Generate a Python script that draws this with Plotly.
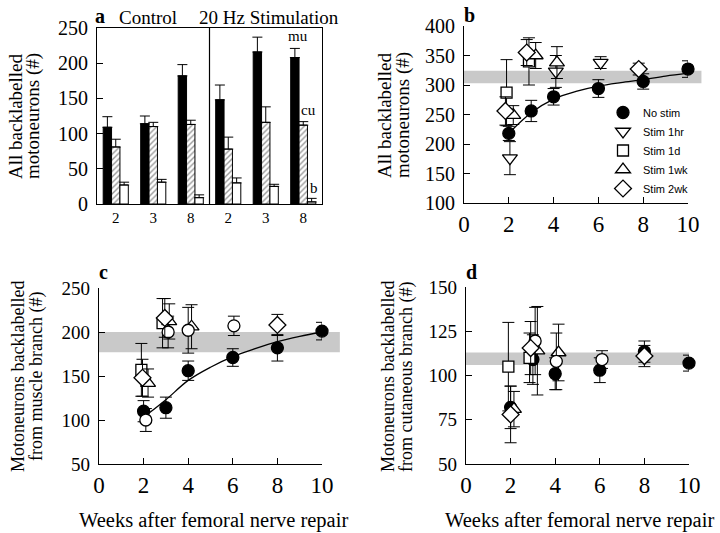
import plotly.graph_objects as go

W, H = 720, 533

# ---------------- Panel a data ----------------
conds = ["C2", "C3", "C8", "S2", "S3", "S8"]
week_labels = ["2", "3", "8", "2", "3", "8"]
mu_vals = [109, 114, 182, 148, 216, 208]
mu_err = [15, 11, 16, 21, 21, 13]
cu_vals = [81, 110, 113, 78, 116, 112]
cu_err = [11, 6, 6, 17, 22, 5]
b_vals = [27, 31, 9, 30, 25, 3]
b_err = [4, 4, 4, 7, 3, 5]

# ---------------- Panel b data ----------------
b_nostim_x = [2, 3, 4, 6, 8, 10]
b_nostim_y = [218, 256, 280, 294, 306, 327]
b_nostim_e = [12, 18, 14, 15, 13, 14]
b_1hr_x = [2.05, 4.1, 6.1]
b_1hr_y = [176, 323, 338]
b_1hr_e = [28, 27, 10]
b_1d_x = [1.9, 2.9]
b_1d_y = [287, 340]
b_1d_e = [56, 40]
b_1wk_x = [2.2, 3.2, 4.15]
b_1wk_y = [249, 350, 338]
b_1wk_e = [16, 22, 27]
b_2wk_x = [1.85, 2.8, 7.8]
b_2wk_y = [256, 355, 327]
b_2wk_e = [24, 22, 10]
b_fit_x = [2.1, 3, 4, 5, 6, 7, 8, 9, 10]
b_fit_y = [222, 253, 276, 289, 298, 304, 309, 315, 320]
b_band = [303, 324]

# ---------------- Panel c data ----------------
c_nostim_x = [2, 3, 4, 6, 8, 10]
c_nostim_y = [110, 114, 156, 171, 182, 201]
c_nostim_e = [12, 12, 11, 10, 15, 10]
c_open_x = [2.1, 3.1, 4.0, 6.05]
c_open_y = [100, 200, 202, 207]
c_open_e = [13, 18, 26, 11]
c_1d_x = [1.9, 2.85]
c_1d_y = [157, 210]
c_1d_e = [30, 28]
c_1wk_x = [2.2, 3.15, 4.15]
c_1wk_y = [142, 212, 206]
c_1wk_e = [16, 20, 25]
c_2wk_x = [1.95, 2.95, 8.0]
c_2wk_y = [148, 216, 208]
c_2wk_e = [21, 22, 12]
c_fit_x = [2.2, 3, 4, 5, 6, 7, 8, 9, 10]
c_fit_y = [107, 123, 145, 160, 172, 181, 189, 195, 200]
c_band = [177, 200]

# ---------------- Panel d data ----------------
d_nostim_x = [2, 3, 4, 6, 8, 10]
d_nostim_y = [82, 109, 101, 103, 113.5, 107]
d_nostim_e = [12, 14, 9, 7, 6, 4.5]
d_open_x = [3.1, 4.05, 6.1]
d_open_y = [119.5, 108, 109]
d_open_e = [19, 16, 5]
d_1d_x = [1.9, 2.85]
d_1d_y = [105, 110]
d_1d_e = [25, 14]
d_1wk_x = [2.15, 3.2, 4.15]
d_1wk_y = [81, 114, 113]
d_1wk_e = [10, 25, 16]
d_2wk_x = [2.0, 2.9, 8.0]
d_2wk_y = [78, 115.5, 111]
d_2wk_e = [16, 15, 6]
d_band = [106, 113]

SERIF = "Liberation Serif"
SANS = "Liberation Sans"


def dx(p0, p1):
    return [p0 / W, p1 / W]


def dy(top, bot):
    return [1 - bot / H, 1 - top / H]


fig = go.Figure()

# ---- panel a bars ----
err_style = dict(type="data", symmetric=False, color="black", thickness=1, width=5)
fig.add_trace(go.Bar(x=conds, y=mu_vals, xaxis="x", yaxis="y", showlegend=False,
                     marker=dict(color="black", line=dict(color="black", width=1)),
                     error_y=dict(err_style, array=mu_err, arrayminus=[0] * len(mu_err))))
fig.add_trace(go.Bar(x=conds, y=cu_vals, xaxis="x", yaxis="y", showlegend=False,
                     marker=dict(color="white", line=dict(color="black", width=1),
                                 pattern=dict(shape="/", fgcolor="#333333", bgcolor="white",
                                              size=4, solidity=0.35)),
                     error_y=dict(err_style, array=cu_err, arrayminus=[0] * len(cu_err))))
fig.add_trace(go.Bar(x=conds, y=b_vals, xaxis="x", yaxis="y", showlegend=False,
                     marker=dict(color="white", line=dict(color="black", width=1)),
                     error_y=dict(err_style, array=b_err, arrayminus=[0] * len(b_err))))


def sc(x, y, e, xa, ya, symbol, filled, size, name, legend):
    return go.Scatter(
        x=x, y=y, mode="markers", xaxis=xa, yaxis=ya, name=name, showlegend=legend,
        cliponaxis=False,
        marker=dict(symbol=symbol, size=size, color="black" if filled else "white",
                    line=dict(color="black", width=1.3)),
        error_y=dict(type="data", array=e, color="black", thickness=1, width=6),
    )


def fit(x, y, xa, ya):
    return go.Scatter(x=x, y=y, mode="lines", xaxis=xa, yaxis=ya, showlegend=False,
                      line=dict(color="black", width=1.3, shape="spline"), hoverinfo="skip")


# ---- panel b ----
fig.add_trace(fit(b_fit_x, b_fit_y, "x2", "y2"))
fig.add_trace(sc(b_nostim_x, b_nostim_y, b_nostim_e, "x2", "y2", "circle", True, 12, "No stim", True))
fig.add_trace(sc(b_1hr_x, b_1hr_y, b_1hr_e, "x2", "y2", "triangle-down", False, 13, "Stim 1hr", True))
fig.add_trace(sc(b_1d_x, b_1d_y, b_1d_e, "x2", "y2", "square", False, 11, "Stim 1d", True))
fig.add_trace(sc(b_1wk_x, b_1wk_y, b_1wk_e, "x2", "y2", "triangle-up", False, 13, "Stim 1wk", True))
fig.add_trace(sc(b_2wk_x, b_2wk_y, b_2wk_e, "x2", "y2", "diamond", False, 13, "Stim 2wk", True))

# ---- panel c ----
fig.add_trace(fit(c_fit_x, c_fit_y, "x3", "y3"))
fig.add_trace(sc(c_nostim_x, c_nostim_y, c_nostim_e, "x3", "y3", "circle", True, 12, "No stim", False))
fig.add_trace(sc(c_1d_x, c_1d_y, c_1d_e, "x3", "y3", "square", False, 11, "Stim 1d", False))
fig.add_trace(sc(c_1wk_x, c_1wk_y, c_1wk_e, "x3", "y3", "triangle-up", False, 13, "Stim 1wk", False))
fig.add_trace(sc(c_open_x, c_open_y, c_open_e, "x3", "y3", "circle", False, 12, "open", False))
fig.add_trace(sc(c_2wk_x, c_2wk_y, c_2wk_e, "x3", "y3", "diamond", False, 13, "Stim 2wk", False))

# ---- panel d ----
fig.add_trace(sc(d_nostim_x, d_nostim_y, d_nostim_e, "x4", "y4", "circle", True, 12, "No stim", False))
fig.add_trace(sc(d_1d_x, d_1d_y, d_1d_e, "x4", "y4", "square", False, 11, "Stim 1d", False))
fig.add_trace(sc(d_1wk_x, d_1wk_y, d_1wk_e, "x4", "y4", "triangle-up", False, 13, "Stim 1wk", False))
fig.add_trace(sc(d_open_x, d_open_y, d_open_e, "x4", "y4", "circle", False, 12, "open", False))
fig.add_trace(sc(d_2wk_x, d_2wk_y, d_2wk_e, "x4", "y4", "diamond", False, 13, "Stim 2wk", False))

axis_common = dict(showline=True, linecolor="black", linewidth=1.2, showgrid=False,
                   zeroline=False, ticks="inside", tickcolor="black", ticklen=6, tickwidth=1.2)

xdom = {"a": (97, 322), "b": (464, 688), "c": (99, 322), "d": (466, 689)}
ydom = {"a": (28, 204), "b": (26, 203), "c": (288, 464), "d": (287, 464)}

fig.update_layout(
    width=W, height=H, margin=dict(l=0, r=0, t=0, b=0, autoexpand=False),
    paper_bgcolor="white", plot_bgcolor="white",
    font=dict(family=SERIF, color="black"),
    barmode="group", bargap=0.33, bargroupgap=0,
    xaxis=dict(axis_common, domain=dx(*xdom["a"]), anchor="y", mirror=True, ticks="",
               tickvals=conds, ticktext=week_labels, tickfont=dict(size=15, family=SERIF),
               range=[-0.5, 5.5]),
    yaxis=dict(axis_common, domain=dy(*ydom["a"]), anchor="x", mirror=True, range=[0, 250],
               dtick=50, tickfont=dict(size=20, family=SERIF), ticklabelstandoff=4),
    xaxis2=dict(axis_common, domain=dx(*xdom["b"]), anchor="y2", range=[0, 10], dtick=2,
                tickfont=dict(size=23, family=SERIF)),
    yaxis2=dict(axis_common, domain=dy(*ydom["b"]), anchor="x2", range=[100, 400], dtick=50,
                tickfont=dict(size=20, family=SERIF), ticklabelstandoff=4),
    xaxis3=dict(axis_common, domain=dx(*xdom["c"]), anchor="y3", range=[0, 10], dtick=2,
                tickfont=dict(size=23, family=SERIF)),
    yaxis3=dict(axis_common, domain=dy(*ydom["c"]), anchor="x3", range=[50, 250], dtick=50,
                tickfont=dict(size=19, family=SERIF), ticklabelstandoff=4),
    xaxis4=dict(axis_common, domain=dx(*xdom["d"]), anchor="y4", range=[0, 10], dtick=2,
                tickfont=dict(size=23, family=SERIF)),
    yaxis4=dict(axis_common, domain=dy(*ydom["d"]), anchor="x4", range=[50, 150], dtick=25,
                tickfont=dict(size=19, family=SERIF), ticklabelstandoff=4),
    legend=dict(x=603 / W, y=1 - 98 / H, xanchor="left", yanchor="top",
                font=dict(family=SANS, size=11, color="black"), bgcolor="rgba(0,0,0,0)",
                tracegroupgap=0, itemwidth=30),
)


# gray reference bands (x extent in data units mapped to paper)
def band(panel, yref, yr, xend):
    p0, p1 = xdom[panel]
    x1 = p0 + (p1 - p0) * xend / 10.0
    fig.add_shape(type="rect", xref="paper", yref=yref, x0=p0 / W, x1=x1 / W,
                  y0=yr[0], y1=yr[1], fillcolor="#c9c9c9", line=dict(width=0), layer="below")


band("b", "y2", b_band, 10.6)
band("c", "y3", c_band, 10.8)
band("d", "y4", d_band, 10.0)

# divider in panel a
fig.add_shape(type="line", xref="x", yref="y domain", x0=2.5, x1=2.5, y0=0, y1=1,
              line=dict(color="black", width=1.2))

ann = []


def txt(x, y, s, size=19, angle=0, family=SERIF, xanchor="center"):
    ann.append(dict(x=x / W, y=1 - y / H, xref="paper", yref="paper", text=s, showarrow=False,
                    textangle=angle, xanchor=xanchor, yanchor="middle",
                    font=dict(size=size, family=family, color="black")))


# panel letters and headers
txt(100, 16, "<b>a</b>", 20)
txt(148, 17, "Control", 19)
txt(269, 17, "20 Hz Stimulation", 19)
txt(469, 15, "<b>b</b>", 20)
txt(104, 272, "<b>c</b>", 20)
txt(471, 272, "<b>d</b>", 20)

# y-axis titles (two lines each)
txt(15, 116, "All backlabelled", 19, angle=-90)
txt(33, 116, "motoneurons (#)", 19, angle=-90)
txt(385, 115, "All backlabelled", 19, angle=-90)
txt(403, 115, "motoneurons (#)", 19, angle=-90)
txt(18, 377, "Motoneurons backlabelled", 18, angle=-90)
txt(36, 377, "from muscle branch (#)", 18, angle=-90)
txt(388, 377, "Motoneurons backlabelled", 18, angle=-90)
txt(406, 377, "from cutaneous branch (#)", 18, angle=-90)

# x-axis titles
txt(213, 520, "Weeks after femoral nerve repair", 20.5)
txt(579, 520, "Weeks after femoral nerve repair", 20.5)

fig.update_layout(annotations=ann)

# bar labels in panel a
lab_font = dict(size=15, family=SERIF, color="black")
fig.add_annotation(x="S8", y=mu_vals[5] + mu_err[5], xref="x", yref="y", text="mu",
                   showarrow=False, xshift=-5, yshift=12, font=lab_font)
fig.add_annotation(x="S8", y=cu_vals[5] + cu_err[5], xref="x", yref="y", text="cu",
                   showarrow=False, xshift=5, yshift=12, font=lab_font)
fig.add_annotation(x="S8", y=b_vals[5] + b_err[5], xref="x", yref="y", text="b",
                   showarrow=False, xshift=11, yshift=10, font=lab_font)

fig.write_html("out.html", config={"displayModeBar": False},
               post_script="document.body.style.margin='0';")
